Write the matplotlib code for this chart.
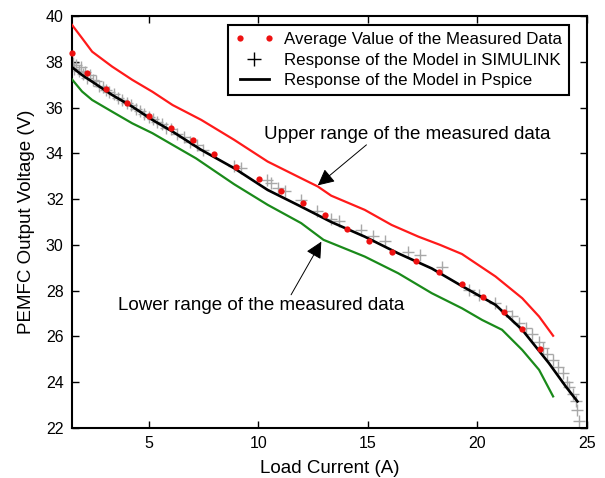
import matplotlib
matplotlib.use("Agg")
import matplotlib.pyplot as plt
from matplotlib.lines import Line2D
from matplotlib.legend_handler import HandlerLine2D

plt.rcParams['font.family'] = ['Liberation Sans', 'DejaVu Sans']

# Average value of the measured data
meas_x = [1.5, 2.17, 3.03, 4.01, 5.0, 6.03, 7.02, 8.0, 9.0, 10.02, 11.04, 12.05,
          13.06, 14.05, 15.06, 16.09, 17.2, 18.23, 19.3, 20.28, 21.2, 22.04, 22.84]
meas_y = [38.4, 37.52, 36.81, 36.2, 35.63, 35.12, 34.57, 33.97, 33.42, 32.87, 32.36, 31.85,
          31.31, 30.71, 30.17, 29.68, 29.31, 28.8, 28.3, 27.74, 27.07, 26.32, 25.47]

# Upper range of the measured data
up_x = [1.5, 1.96, 2.42, 3.33, 4.25, 5.17, 6.09, 7.4, 8.9, 10.43, 11.96, 12.72, 13.33,
        14.86, 16.09, 17.31, 18.3, 19.3, 20.83, 22.05, 22.82, 23.46]
up_y = [39.61, 39.03, 38.44, 37.79, 37.21, 36.69, 36.11, 35.46, 34.59, 33.64, 32.91, 32.55, 32.15,
        31.53, 30.87, 30.36, 30.0, 29.6, 28.62, 27.67, 26.87, 26.03]

# Lower range of the measured data
lo_x = [1.5, 1.96, 2.42, 3.33, 4.25, 5.17, 6.09, 7.16, 8.9, 10.43, 11.96, 12.98, 14.86,
        16.39, 17.92, 19.3, 20.22, 21.13, 22.05, 22.82, 23.46]
lo_y = [37.23, 36.7, 36.33, 35.82, 35.31, 34.88, 34.37, 33.78, 32.65, 31.75, 30.95, 30.22, 29.49,
        28.76, 27.89, 27.23, 26.72, 26.29, 25.41, 24.54, 23.38]

# Response of the model in Pspice
ps_x = [1.5, 1.96, 2.42, 3.33, 4.25, 5.17, 6.09, 7.4, 8.9, 10.43, 11.96, 13.33, 14.86,
        16.39, 17.92, 19.3, 20.83, 22.05, 23.27, 24.04, 24.57]
ps_y = [37.76, 37.42, 37.13, 36.55, 36.04, 35.46, 34.95, 34.15, 33.35, 32.4, 31.67, 31.0, 30.36,
        29.63, 28.97, 28.2, 27.38, 26.29, 24.83, 23.81, 23.16]

# Response of the model in SIMULINK
sim_x = [1.55, 1.6, 1.7, 1.8, 1.9, 2.0, 2.1, 2.2, 2.3, 2.45, 2.6, 2.75, 2.9, 3.05, 3.2, 3.4,
         3.6, 3.8, 4.0, 4.2, 4.4, 4.6, 4.8, 5.0, 5.2, 5.4, 5.6, 5.8, 6.0, 6.3, 6.6, 6.9,
         7.2, 7.5, 8.9, 9.2, 10.4, 10.6, 10.9, 11.2, 11.95, 12.7, 13.3, 13.7, 14.7, 15.25,
         15.8, 16.85, 17.4, 18.4, 19.6, 20.1, 20.8, 21.3, 21.6, 21.9, 22.2, 22.5, 22.8,
         23.0, 23.2, 23.45, 23.7, 23.9, 24.1, 24.2, 24.35, 24.5, 24.57, 24.65]
sim_y = [37.95, 37.7, 37.85, 37.6, 37.75, 37.45, 37.55, 37.3, 37.4, 37.2, 37.15, 36.95, 36.9,
         36.75, 36.7, 36.6, 36.4, 36.35, 36.2, 36.1, 35.95, 35.85, 35.7, 35.6, 35.5, 35.35,
         35.3, 35.1, 35.05, 34.85, 34.7, 34.5, 34.35, 34.15, 33.45, 33.35, 32.85, 32.7, 32.5,
         32.35, 31.95, 31.5, 31.15, 31.05, 30.65, 30.4, 30.15, 29.7, 29.55, 29.05, 28.05,
         27.8, 27.45, 27.1, 26.9, 26.6, 26.35, 26.1, 25.75, 25.5, 25.25, 24.95, 24.65, 24.4,
         24.0, 23.8, 23.5, 23.2, 22.8, 22.3]

x_ticks = [5, 10, 15, 20, 25]
y_ticks = [22, 24, 26, 28, 30, 32, 34, 36, 38, 40]

fig = plt.figure(figsize=(6.05, 4.78), dpi=100)
ax = fig.add_axes([0.119, 0.1046, 0.851, 0.862])

ax.plot(sim_x, sim_y, linestyle='none', marker='+', color='#a8a8a8', markersize=8,
        markeredgewidth=1.0, zorder=2)
ax.plot(up_x, up_y, color='#ff1a1a', lw=1.6, zorder=3)
ax.plot(lo_x, lo_y, color='#1a8a1a', lw=1.6, zorder=3)
ax.plot(ps_x, ps_y, color='black', lw=1.9, zorder=4)
ax.plot(meas_x, meas_y, linestyle='none', marker='o', color='#ee1111', markersize=4.5,
        markeredgewidth=0, zorder=5, clip_on=False)

ax.set_xlim(1.5, 25)
ax.set_ylim(22, 40)
ax.set_xticks(x_ticks)
ax.set_yticks(y_ticks)
ax.tick_params(direction='in', length=5, width=1, top=True, right=True,
               labelsize=11.5, pad=6)
for s in ax.spines.values():
    s.set_linewidth(1.5)

ax.set_xlabel('Load Current (A)', fontsize=13.5, labelpad=6)
ax.set_ylabel('PEMFC Output Voltage (V)', fontsize=13.5, labelpad=8)

h_meas = Line2D([], [], linestyle='none', marker='o', color='#ee1111', markersize=4.5,
                markeredgewidth=0)
h_sim = Line2D([], [], linestyle='none', marker='+', color='black', markersize=10,
               markeredgewidth=1.0)
h_ps = Line2D([], [], color='black', lw=2.0)
labels = ['Average Value of the Measured Data', 'Response of the Model in SIMULINK',
          'Response of the Model in Pspice']
leg = ax.legend([h_meas, h_sim, h_ps], labels, loc='upper right',
                bbox_to_anchor=(0.965, 0.978), borderaxespad=0, fontsize=12.2,
                numpoints=2, handlelength=2.3, handletextpad=0.6, labelspacing=0.34,
                fancybox=False, framealpha=1, edgecolor='black', borderpad=0.4,
                handler_map={h_sim: HandlerLine2D(numpoints=1)})
leg.get_frame().set_linewidth(1.5)

ax.text(16.8, 34.8, 'Upper range of the measured data', fontsize=13.5,
        ha='center', va='center')
ax.annotate('', xy=(12.72, 32.6), xytext=(14.94, 34.37),
            arrowprops=dict(arrowstyle='-|>,head_length=0.5,head_width=0.25',
                            color='black', lw=0.7, mutation_scale=20, shrinkA=0, shrinkB=0))
ax.text(10.12, 27.34, 'Lower range of the measured data', fontsize=13.5,
        ha='center', va='center')
ax.annotate('', xy=(12.88, 30.14), xytext=(11.5, 27.82),
            arrowprops=dict(arrowstyle='-|>,head_length=0.5,head_width=0.25',
                            color='black', lw=0.7, mutation_scale=20, shrinkA=0, shrinkB=0))

fig.savefig('out.png', dpi=100)
